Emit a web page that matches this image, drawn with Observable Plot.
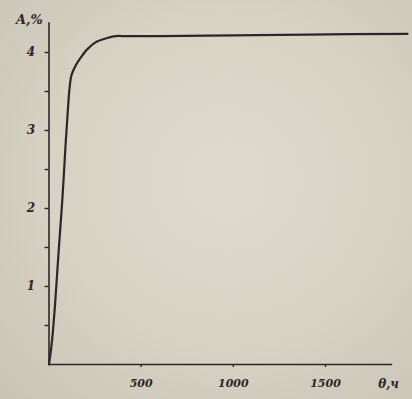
<!DOCTYPE html>
<html>
<head>
<meta charset="utf-8">
<script src="https://cdn.jsdelivr.net/npm/d3@7"></script>
<script src="https://cdn.jsdelivr.net/npm/@observablehq/plot@0.6"></script>
<style>
html, body { margin: 0; padding: 0; }
body {
  width: 412px; height: 399px; overflow: hidden;
  background: radial-gradient(ellipse at 55% 45%, #dedbce 0%, #d6d2c4 55%, #c9c4b4 100%);
}
#chart svg { display: block; background: transparent; }
#chart svg text { font-style: italic; font-weight: bold; }
</style>
</head>
<body>
<div id="chart"></div>
<script>
// curve data: time (x) vs A, % (y)
const timeVals = [0, 17, 35, 52, 72, 90, 104, 111, 122, 144, 171, 207, 252, 307, 361, 415, 469, 605, 1000, 1400, 1945];
const aVals    = [0, 0.32, 0.84, 1.44, 2.10, 2.82, 3.32, 3.53, 3.71, 3.83, 3.93, 4.04, 4.13, 4.18, 4.21, 4.21, 4.21, 4.21, 4.22, 4.23, 4.24];
const yTicks = [0.5, 1, 1.5, 2, 2.5, 3, 3.5, 4];
const yLabels = ["1", "2", "3", "4"];
const xTicks = [500, 1000, 1500];
const xTickLabels = ["500", "1000", "1500"];
const xAxisEnd = 1864;
const yAxisTop = 4.38;
const yTitle = "A,%";
const xTitle = "θ,ч";

const data = timeVals.map((t, i) => ({t, a: aVals[i]}));
const ink = "#2f2529";

const chart = Plot.plot({
  width: 412,
  height: 399,
  marginLeft: 48.5,
  marginRight: 0,
  marginTop: 0,
  marginBottom: 35,
  style: {background: "transparent", color: ink, fontFamily: "DejaVu Serif", fontSize: "11px"},
  x: {domain: [0, 1972]},
  y: {domain: [0, 364 / 78]},
  marks: [
    Plot.ruleX([0], {y1: 0, y2: yAxisTop, stroke: ink, strokeWidth: 1.6}),
    Plot.ruleY([0], {x1: 0, x2: xAxisEnd, stroke: ink, strokeWidth: 1.6}),
    Plot.axisY({
      ticks: yTicks, tickSize: 4, tickPadding: 10, stroke: ink, strokeWidth: 1.4, fontSize: 12,
      tickFormat: d => Number.isInteger(d) ? yLabels[d - 1] : "", label: null, fill: ink
    }),
    Plot.axisX({
      ticks: xTicks, tickSize: 3, tickPadding: 12, stroke: ink, strokeWidth: 1.4,
      tickFormat: d => xTickLabels[xTicks.indexOf(d)], label: null, fill: ink
    }),
    Plot.text([yTitle], {frameAnchor: "top-left", dx: -33, dy: 14, fontSize: 13, fill: ink}),
    Plot.text([xTitle], {x: 1842, y: 0, dy: 20, textAnchor: "middle", fontSize: 12, fill: ink}),
    Plot.line(data, {x: "t", y: "a", stroke: ink, strokeWidth: 2.2, curve: "catmull-rom", clip: false})
  ]
});
document.getElementById("chart").append(chart);
</script>
</body>
</html>
